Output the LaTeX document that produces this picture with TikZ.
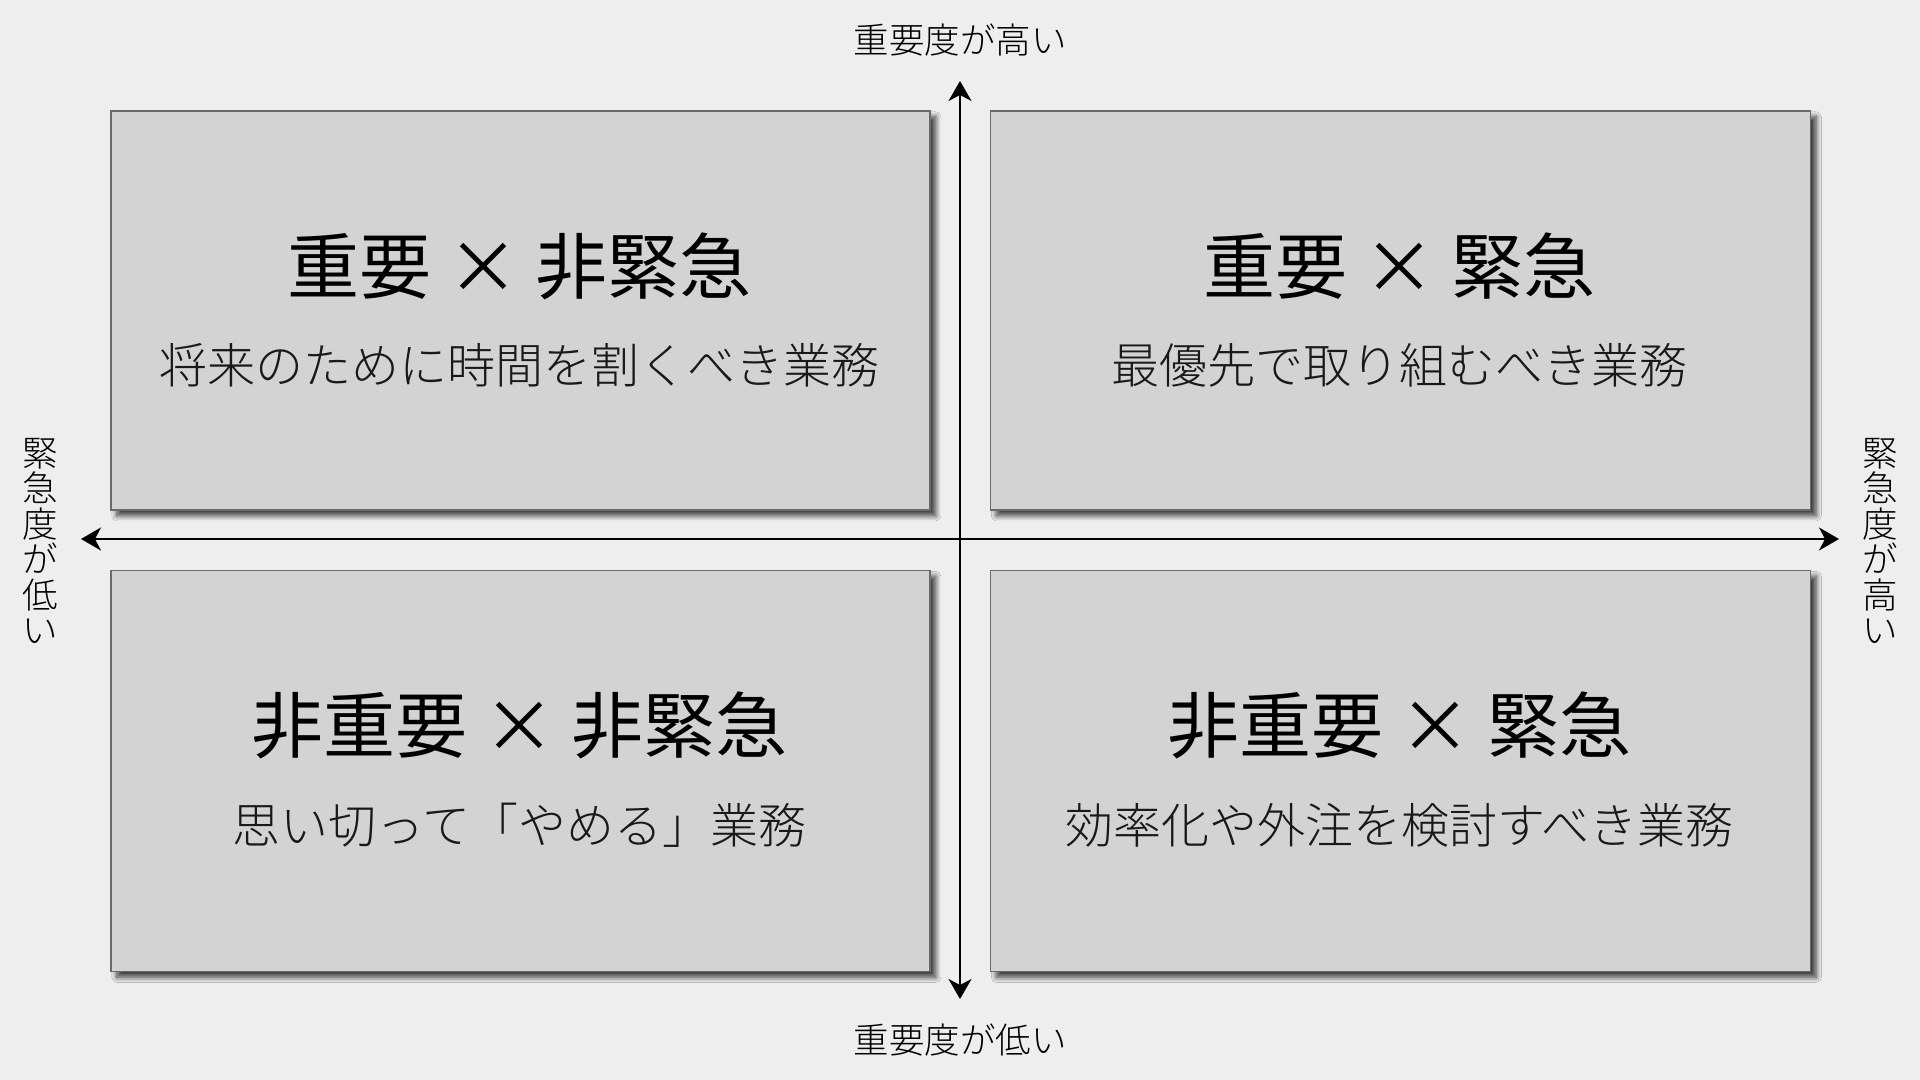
\documentclass[tikz,border=0pt]{standalone}
\usepackage{fontspec}
\usetikzlibrary{arrows.meta,shadows.blur}
\setmainfont{Noto Sans CJK JP}
\newfontfamily\jpreg{Noto Sans CJK JP}
\IfFontExistsTF{Noto Sans CJK JP Light}{\newfontfamily\jplight{Noto Sans CJK JP Light}}{\newfontfamily\jplight{Noto Sans CJK JP}}
\definecolor{bgcol}{HTML}{EEEEEE}
\definecolor{boxfill}{HTML}{D3D3D3}
\definecolor{boxline}{HTML}{6A6A6A}
\tikzset{
  quad/.style={draw=boxline, line width=0.8pt, fill=boxfill,
    blur shadow={shadow xshift=3pt, shadow yshift=-3pt, shadow opacity=75, shadow blur radius=2.5pt, shadow blur steps=12}},
  qtitle/.style={font={\jpreg\fontsize{36pt}{40pt}\selectfont}, text=black, inner sep=0pt},
  qsub/.style={font={\jplight\fontsize{24pt}{28pt}\selectfont}, text=black!90, inner sep=0pt},
  axislabel/.style={font={\jplight\fontsize{17.75pt}{17.75pt}\selectfont}, text=black, inner sep=0pt},
  vlabel/.style={font={\jplight\fontsize{17.75pt}{17.75pt}\selectfont}, text=black, inner sep=0pt, align=center},
  axis/.style={line width=1pt, black, {Stealth[length=10pt,width=11.5pt,inset=3pt]}-{Stealth[length=10pt,width=11.5pt,inset=3pt]}}
}
\begin{document}
\begin{tikzpicture}[x=0.5pt,y=-0.5pt]
\fill[bgcol] (0,0) rectangle (1920,1080);
\useasboundingbox (0,0) rectangle (1920,1080);
% quadrant boxes
\node[quad, minimum width=409.5pt, minimum height=199.5pt, anchor=north west, inner sep=0pt] (tl) at (110,110) {};
\node[quad, minimum width=410pt, minimum height=199.5pt, anchor=north west, inner sep=0pt] (tr) at (989.5,110) {};
\node[quad, minimum width=409.5pt, minimum height=200.5pt, anchor=north west, inner sep=0pt] (bl) at (110,569.5) {};
\node[quad, minimum width=410pt, minimum height=200.5pt, anchor=north west, inner sep=0pt] (br) at (989.5,569.5) {};
% axes
\coordinate (top) at (960,81);
\coordinate (bot) at (960,999);
\coordinate (lft) at (81,539);
\coordinate (rgt) at (1839,539);
\draw[axis] (bot) -- (top);
\draw[axis] (lft) -- (rgt);
% titles
\node[qtitle] (tlt) at (519.5,266) {重要 × 非緊急};
\node[qsub]   (tls) at (519.5,365) {将来のために時間を割くべき業務};
\node[qtitle] (trt) at (1399.5,266) {重要 × 緊急};
\node[qsub]   (trs) at (1399.5,365) {最優先で取り組むべき業務};
\node[qtitle] (blt) at (519.5,725) {非重要 × 非緊急};
\node[qsub]   (bls) at (519.5,825) {思い切って「やめる」業務};
\node[qtitle] (brt) at (1399.5,725) {非重要 × 緊急};
\node[qsub]   (brs) at (1399.5,825) {効率化や外注を検討すべき業務};
% axis labels
\node[axislabel] (hi) at (960,40) {重要度が高い};
\node[axislabel] (lo) at (960,1040) {重要度が低い};
\node[vlabel] (ulo) at (40,541) {緊\\急\\度\\が\\低\\い};
\node[vlabel] (uhi) at (1880,541) {緊\\急\\度\\が\\高\\い};
\end{tikzpicture}
\end{document}
